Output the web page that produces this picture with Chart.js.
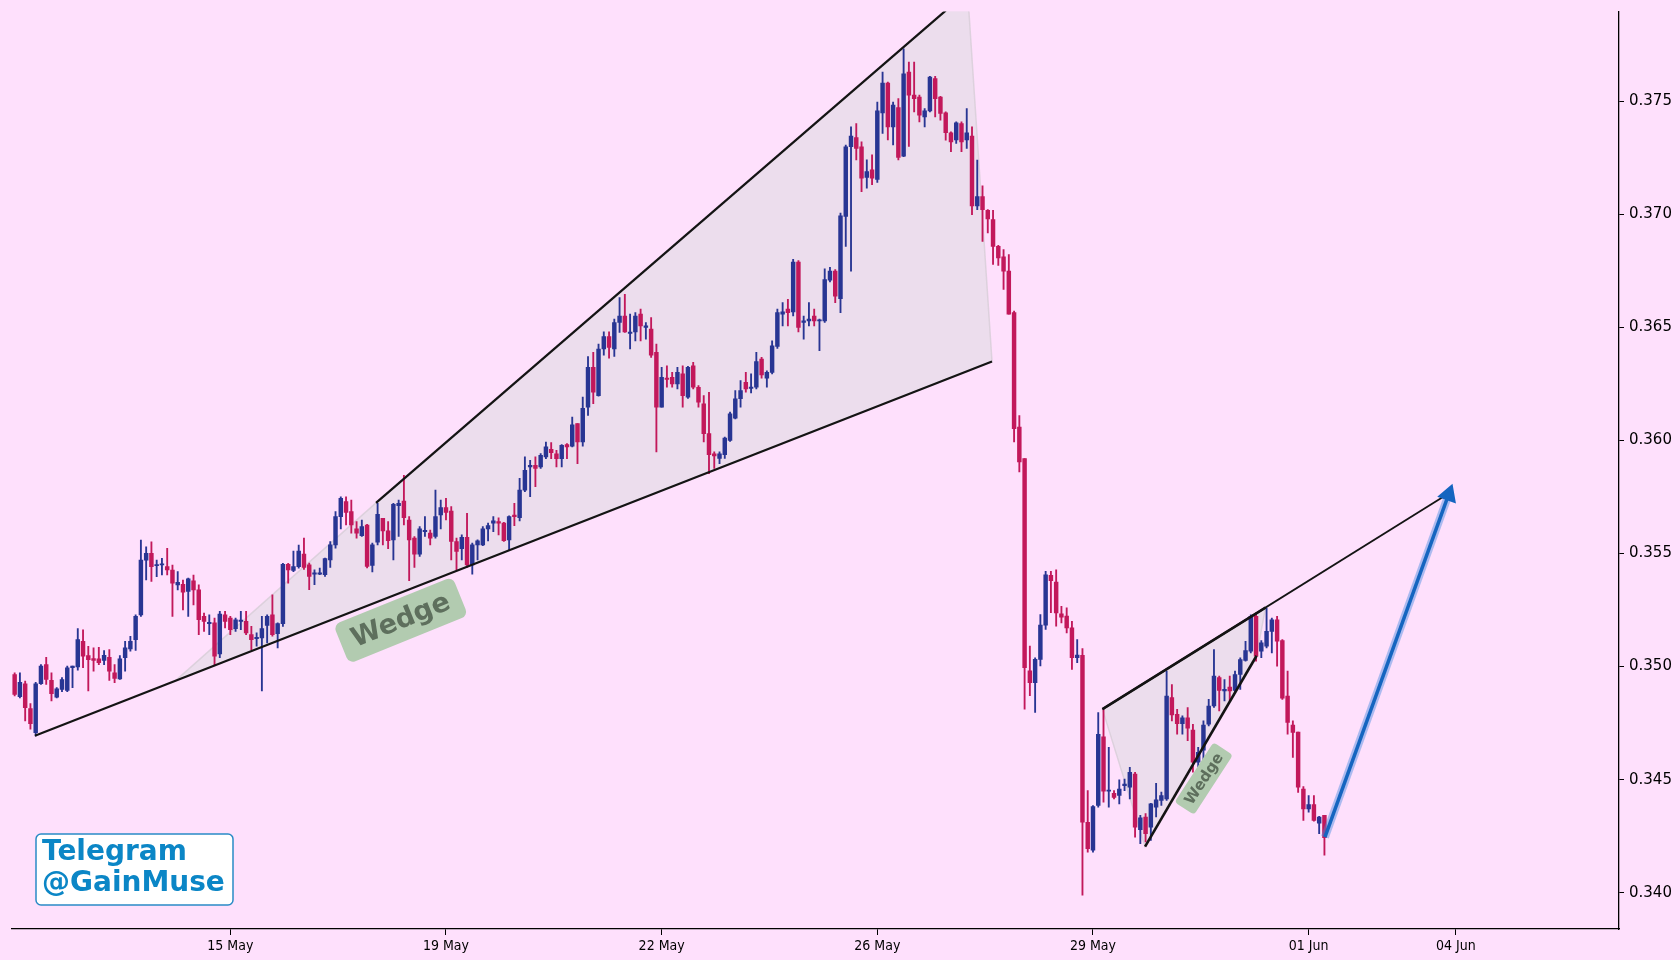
<!DOCTYPE html>
<html lang="en">
<head>
  <meta charset="UTF-8">
  <title>Wedge chart</title>
  <script src="https://cdn.jsdelivr.net/npm/chart.js"></script>
  <style>
    html, body { margin: 0; padding: 0; background: #fee0fc; }
    .wrap { width: 1680px; height: 960px; position: relative; }
  </style>
</head>
<body>
  <div class="wrap"><canvas id="chart"></canvas></div>

  <script>
    // candles, one per index step
    const open = [
      .34965,.34867,.34924,.34814,.34708,.34924,.35009,.34939,.34865,.34899,.34895,.34995,.34999,.35112,.35049,.35036,.35034,.35027,.35041,.34973,
      .34946,.35039,.35078,.35119,.35229,.35471,.35501,.35446,.35449,.35442,.35427,.35361,.35364,.35332,.35379,.35339,.35222,.35190,.35193,.35056,
      .35229,.35215,.35168,.35200,.35200,.35141,.35124,.35127,.35182,.35229,.35146,.35190,.35452,.35425,.35442,.35497,.35450,.35409,.35409,.35406,
      .35472,.35538,.35663,.35729,.35685,.35609,.35579,.35626,.35447,.35550,.35656,.35600,.35560,.35711,.35732,.35648,.35568,.35497,.35597,.35590,
      .35575,.35670,.35703,.35688,.35553,.35521,.35571,.35450,.35538,.35538,.35609,.35634,.35641,.35634,.35560,.35670,.35658,.35780,.35883,.35890,
      .35883,.35927,.35961,.35941,.35919,.35981,.35975,.36074,.35993,.36147,.36323,.36198,.36404,.36459,.36404,.36521,.36550,.36473,.36480,.36558,
      .36499,.36492,.36389,.36147,.36275,.36279,.36250,.36294,.36191,.36330,.36235,.36162,.36030,.35941,.35920,.35937,.36000,.36098,.36184,.36257,
      .36230,.36235,.36360,.36275,.36301,.36415,.36558,.36580,.36568,.36788,.36521,.36528,.36550,.36528,.36528,.36708,.36748,.36626,.36990,.37298,
      .37339,.37298,.37163,.37196,.37154,.37448,.37580,.37386,.37471,.37257,.37628,.37526,.37518,.37430,.37457,.37599,.37518,.37448,.37360,.37328,
      .37401,.37328,.37345,.37037,.37078,.37017,.36976,.36858,.36811,.36748,.36565,.36059,.35920,.34981,.34929,.35032,.35183,.35403,.35374,.35233,
      .35223,.35171,.35039,.35050,.34312,.34188,.34386,.34690,.34449,.34440,.34430,.34474,.34467,.34525,.34279,.34335,.34290,.34379,.34408,.34415,
      .34863,.34789,.34748,.34774,.34719,.34577,.34631,.34745,.34826,.34951,.34892,.34909,.34895,.34965,.35027,.35068,.35222,.35068,.35090,.35156,
      .35207,.35115,.34870,.34742,.34711,.34459,.34371,.34390,.34308,.34342
    ];
    const high = [
      .34973,.34973,.34936,.34836,.34931,.35009,.35041,.34973,.34907,.34951,.35002,.35002,.35168,.35163,.35090,.35083,.35085,.35071,.35075,.35009,
      .35049,.35112,.35134,.35229,.35559,.35530,.35552,.35471,.35479,.35523,.35449,.35420,.35383,.35391,.35405,.35361,.35237,.35229,.35215,.35244,
      .35244,.35222,.35215,.35244,.35244,.35178,.35149,.35222,.35229,.35317,.35193,.35457,.35457,.35511,.35537,.35568,.35458,.35428,.35436,.35480,
      .35553,.35685,.35751,.35751,.35736,.35641,.35648,.35629,.35546,.35722,.35656,.35641,.35722,.35736,.35846,.35663,.35575,.35619,.35663,.35604,
      .35780,.35736,.35744,.35707,.35568,.35582,.35678,.35546,.35560,.35619,.35634,.35663,.35658,.35638,.35667,.35722,.35832,.35927,.35912,.35927,
      .35942,.35993,.35990,.35956,.35981,.35986,.36103,.36074,.36191,.36371,.36389,.36426,.36480,.36480,.36536,.36631,.36646,.36558,.36565,.36580,
      .36521,.36543,.36426,.36323,.36330,.36301,.36323,.36330,.36327,.36345,.36242,.36198,.36213,.35949,.35949,.36015,.36125,.36220,.36264,.36301,
      .36294,.36389,.36367,.36308,.36440,.36580,.36609,.36624,.36800,.36795,.36550,.36609,.36580,.36536,.36758,.36765,.36755,.37005,.37306,.37386,
      .37401,.37320,.37240,.37262,.37496,.37628,.37584,.37496,.37511,.37731,.37672,.37672,.37526,.37467,.37609,.37609,.37521,.37452,.37364,.37408,
      .37408,.37467,.37386,.37239,.37125,.37020,.37017,.36862,.36843,.36821,.36572,.36110,.35920,.35091,.35039,.35230,.35421,.35421,.35428,.35266,
      .35260,.35200,.35119,.35080,.34452,.34386,.34797,.34811,.34643,.34452,.34499,.34503,.34555,.34533,.34342,.34350,.34396,.34484,.34445,.34980,
      .34921,.34811,.34782,.34819,.34745,.34643,.34760,.34855,.35075,.34958,.34943,.34958,.34980,.35039,.35112,.35229,.35237,.35115,.35259,.35215,
      .35222,.35119,.34980,.34760,.34711,.34470,.34430,.34430,.34338,.34342
    ];
    const low = [
      .34870,.34862,.34760,.34723,.34694,.34921,.34921,.34848,.34862,.34889,.34889,.34907,.34984,.34995,.34892,.34980,.35009,.35009,.34939,.34929,
      .34943,.34980,.35068,.35071,.35222,.35383,.35376,.35398,.35405,.35405,.35222,.35339,.35251,.35222,.35273,.35141,.35156,.35141,.35009,.35039,
      .35171,.35141,.35156,.35163,.35141,.35075,.35090,.34892,.35105,.35134,.35083,.35178,.35369,.35420,.35435,.35430,.35340,.35362,.35406,.35399,
      .35438,.35524,.35609,.35626,.35590,.35568,.35575,.35436,.35418,.35538,.35538,.35521,.35472,.35575,.35626,.35380,.35438,.35487,.35575,.35538,
      .35568,.35609,.35648,.35472,.35428,.35472,.35438,.35409,.35472,.35535,.35556,.35597,.35582,.35553,.35516,.35623,.35644,.35773,.35751,.35795,
      .35876,.35919,.35919,.35883,.35883,.35919,.35971,.35897,.35975,.36110,.36162,.36195,.36377,.36363,.36371,.36477,.36477,.36404,.36440,.36440,
      .36448,.36367,.35949,.36147,.36235,.36235,.36228,.36147,.36186,.36228,.36147,.35993,.35853,.35876,.35897,.35920,.35996,.36095,.36147,.36213,
      .36210,.36228,.36275,.36235,.36294,.36407,.36506,.36506,.36550,.36480,.36448,.36506,.36506,.36397,.36521,.36700,.36609,.36565,.36858,.36748,
      .37240,.37100,.37115,.37130,.37140,.37357,.37328,.37306,.37240,.37254,.37300,.37452,.37408,.37386,.37452,.37430,.37416,.37327,.37276,.37313,
      .37276,.37291,.36998,.37020,.36880,.36917,.36778,.36773,.36667,.36558,.35993,.35861,.34812,.34871,.34797,.35003,.35164,.35238,.35179,.35193,
      .35149,.34988,.35017,.33990,.34180,.34180,.34379,.34401,.34379,.34415,.34393,.34452,.34415,.34246,.34217,.34225,.34232,.34335,.34386,.34408,
      .34760,.34701,.34701,.34672,.34533,.34555,.34584,.34738,.34819,.34804,.34848,.34848,.34885,.34899,.35024,.35061,.35024,.35039,.35083,.35061,
      .35002,.34855,.34701,.34598,.34444,.34320,.34356,.34317,.34261,.34166
    ];
    const close = [
      .34877,.34931,.34818,.34748,.34924,.35002,.34943,.34880,.34902,.34943,.34995,.35002,.35119,.35046,.35031,.35027,.35017,.35050,.34980,.34948,
      .35034,.35083,.35112,.35222,.35471,.35501,.35442,.35449,.35452,.35427,.35369,.35372,.35329,.35388,.35339,.35207,.35200,.35193,.35046,.35232,
      .35200,.35163,.35207,.35204,.35149,.35119,.35129,.35168,.35222,.35141,.35190,.35452,.35427,.35442,.35511,.35438,.35399,.35414,.35414,.35477,
      .35538,.35663,.35744,.35682,.35626,.35590,.35619,.35443,.35538,.35673,.35600,.35557,.35717,.35722,.35658,.35560,.35497,.35609,.35600,.35568,
      .35663,.35703,.35682,.35553,.35509,.35571,.35450,.35538,.35556,.35609,.35623,.35644,.35634,.35557,.35663,.35663,.35780,.35868,.35890,.35876,
      .35934,.35971,.35946,.35919,.35978,.35971,.36069,.35993,.36142,.36323,.36213,.36404,.36459,.36411,.36521,.36550,.36480,.36477,.36550,.36506,
      .36506,.36377,.36147,.36279,.36269,.36250,.36301,.36198,.36323,.36235,.36169,.36030,.35937,.35931,.35941,.36010,.36117,.36184,.36220,.36228,
      .36235,.36348,.36289,.36301,.36418,.36565,.36568,.36565,.36788,.36499,.36528,.36536,.36528,.36533,.36711,.36748,.36638,.36993,.37298,.37345,
      .37291,.37159,.37188,.37159,.37457,.37580,.37386,.37482,.37251,.37621,.37526,.37511,.37438,.37457,.37606,.37511,.37445,.37360,.37320,.37404,
      .37320,.37360,.37037,.37078,.37020,.36979,.36858,.36807,.36748,.36558,.36052,.35905,.34995,.34929,.35032,.35183,.35406,.35380,.35237,.35218,
      .35171,.35039,.35051,.34312,.34195,.34381,.34701,.34449,.34452,.34422,.34459,.34481,.34533,.34290,.34332,.34261,.34393,.34411,.34430,.34870,
      .34786,.34748,.34774,.34728,.34577,.34621,.34742,.34826,.34958,.34895,.34899,.34892,.34965,.35031,.35071,.35222,.35046,.35105,.35156,.35207,
      .35112,.34860,.34753,.34709,.34467,.34371,.34390,.34320,.34335,.34244
    ];

    const tickPos    = [41, 82, 123, 164, 205, 246, 274];
    const tickLabels = ['15 May', '19 May', '22 May', '26 May', '29 May', '01 Jun', '04 Jun'];
    const priceTicks = [0.340, 0.345, 0.350, 0.355, 0.360, 0.365, 0.370, 0.375];

    // drawn patterns, [index, price]
    const bigLower   = [[3.85, 0.34694], [185.8, 0.36349]];
    const bigUpper   = [[68.7, 0.35724], [177.0, 0.3790]];
    const bigShade   = [[30.6, 0.34938], [68.7, 0.35724], [177.0, 0.3790], [181.4, 0.3790], [185.8, 0.36349]];
    const smallUpper = [[206.8, 0.34812], [237.8, 0.35261]];
    const smallLower = [[214.9, 0.34204], [236.1, 0.35048]];
    const longUpper  = [[206.8, 0.34812], [272.6, 0.35765]];
    const smallShade = [[206.8, 0.34812], [214.9, 0.34204], [236.1, 0.35048], [237.8, 0.35261]];
    const arrowPath  = [[249.1, 0.34246], [272.6, 0.3576]];
    const bigTagAt   = [73.4, 0.35205];
    const smallTagAt = [226.05, 0.34505];

    const UP = '#283593', DOWN = '#c2185b';
    const idx = open.map((_, i) => i);
    const candleColor = idx.map(i => close[i] >= open[i] ? UP : DOWN);
    const pts = arr => arr.map(p => ({ x: p[0], y: p[1] }));

    const lineSet = (arr, width, order) => ({
      type: 'line', data: pts(arr), borderColor: '#141414', borderWidth: width,
      pointRadius: 0, fill: false, order: order, tension: 0
    });

    const shadeSet = (arr) => ({
      type: 'line', data: pts(arr.concat([arr[0]])), borderColor: 'rgba(215,205,215,0.8)',
      borderWidth: 1.5, backgroundColor: 'rgba(205,215,210,0.36)', fill: 'shape',
      pointRadius: 0, order: 20, tension: 0
    });

    function drawTag(ctx, cx, cy, deg, size, text) {
      ctx.save();
      ctx.translate(cx, cy);
      ctx.rotate(deg * Math.PI / 180);
      ctx.font = 'bold ' + size + 'px "DejaVu Sans"';
      const w = ctx.measureText(text).width + size * 0.9;
      const h = size * 1.55;
      ctx.beginPath();
      ctx.roundRect(-w / 2, -h / 2, w, h, size * 0.25);
      ctx.fillStyle = '#b2cbb0';
      ctx.fill();
      ctx.fillStyle = '#5e6f5d';
      ctx.textAlign = 'center';
      ctx.textBaseline = 'middle';
      ctx.fillText(text, 0, 1);
      ctx.restore();
    }

    const annotations = {
      id: 'annotations',
      afterDatasetsDraw(chart) {
        const { ctx, chartArea, scales: { x, y } } = chart;
        drawTag(ctx, x.getPixelForValue(bigTagAt[0]), y.getPixelForValue(bigTagAt[1]), -22, 27, 'Wedge');
        drawTag(ctx, x.getPixelForValue(smallTagAt[0]), y.getPixelForValue(smallTagAt[1]), -57, 15, 'Wedge');

        // telegram badge
        const bx = chartArea.left + 24.5, by = chartArea.bottom - 95;
        ctx.save();
        ctx.beginPath();
        ctx.roundRect(bx, by, 197, 71, 5);
        ctx.fillStyle = '#ffffff';
        ctx.fill();
        ctx.lineWidth = 1.5;
        ctx.strokeStyle = '#2a8ac6';
        ctx.stroke();
        ctx.fillStyle = '#0b86c6';
        ctx.font = 'bold 28px "DejaVu Sans"';
        ctx.textBaseline = 'middle';
        ctx.fillText('Telegram', bx + 6, by + 19);
        ctx.fillText('@GainMuse', bx + 6, by + 50);
        ctx.restore();
      }
    };

    const ctx = document.getElementById('chart').getContext('2d');
    new Chart(ctx, {
      type: 'bar',
      data: {
        datasets: [
          shadeSet(bigShade),
          shadeSet(smallShade),
          {
            data: idx.map(i => ({ x: i, y: [low[i], high[i]] })),
            backgroundColor: candleColor, barThickness: 1.2, grouped: false, order: 6
          },
          {
            data: idx.map(i => ({ x: i, y: [open[i], close[i]] })),
            backgroundColor: candleColor, barThickness: 3.8, minBarLength: 1.2, grouped: false, order: 5
          },
          lineSet(bigLower, 2.2, 2),
          lineSet(bigUpper, 2.2, 2),
          lineSet(longUpper, 1.8, 2),
          lineSet(smallUpper, 2.6, 2),
          lineSet(smallLower, 2.6, 2),
          {
            type: 'line', data: pts(arrowPath), borderColor: 'rgba(70,140,225,0.45)', borderWidth: 8,
            pointRadius: 0, order: 1
          },
          {
            type: 'line', data: pts(arrowPath), borderColor: '#1565c0', borderWidth: 3.5,
            pointRadius: [0, 8], pointStyle: 'triangle', rotation: 20,
            pointBackgroundColor: '#1565c0', pointBorderColor: '#1565c0', order: 0
          }
        ]
      },
      options: {
        responsive: true,
        maintainAspectRatio: false,
        animation: false,
        layout: { padding: { left: 8.6, top: 7.5, right: 0, bottom: 0 } },
        plugins: { legend: { display: false }, tooltip: { enabled: false } },
        scales: {
          x: {
            type: 'linear', min: -0.6, max: 305, offset: false,
            afterBuildTicks: s => { s.ticks = tickPos.map(v => ({ value: v })); },
            afterFit: s => { s.height = 31; s.paddingLeft = 0; s.paddingRight = 0; },
            ticks: {
              autoSkip: false, maxRotation: 0, padding: 3, color: '#000',
              font: { family: "'DejaVu Sans Condensed', 'DejaVu Sans'", size: 14 },
              callback: v => tickLabels[tickPos.indexOf(v)]
            },
            grid: { display: true, offset: false, drawOnChartArea: false, drawTicks: true, tickLength: 6, color: '#000' },
            border: { display: true, color: '#000', width: 1.3 }
          },
          y: {
            position: 'right', min: 0.3384, max: 0.37896,
            afterBuildTicks: s => { s.ticks = priceTicks.map(v => ({ value: v })); },
            afterFit: s => { s.width = 61; s.paddingTop = 0; s.paddingBottom = 0; },
            ticks: {
              padding: 5, color: '#000',
              font: { family: "'DejaVu Sans'", size: 15 },
              callback: v => v.toFixed(3)
            },
            grid: { display: true, offset: false, drawOnChartArea: false, drawTicks: true, tickLength: 5, color: '#000' },
            border: { display: true, color: '#000', width: 1.3 }
          }
        }
      },
      plugins: [annotations]
    });
  </script>
</body>
</html>
